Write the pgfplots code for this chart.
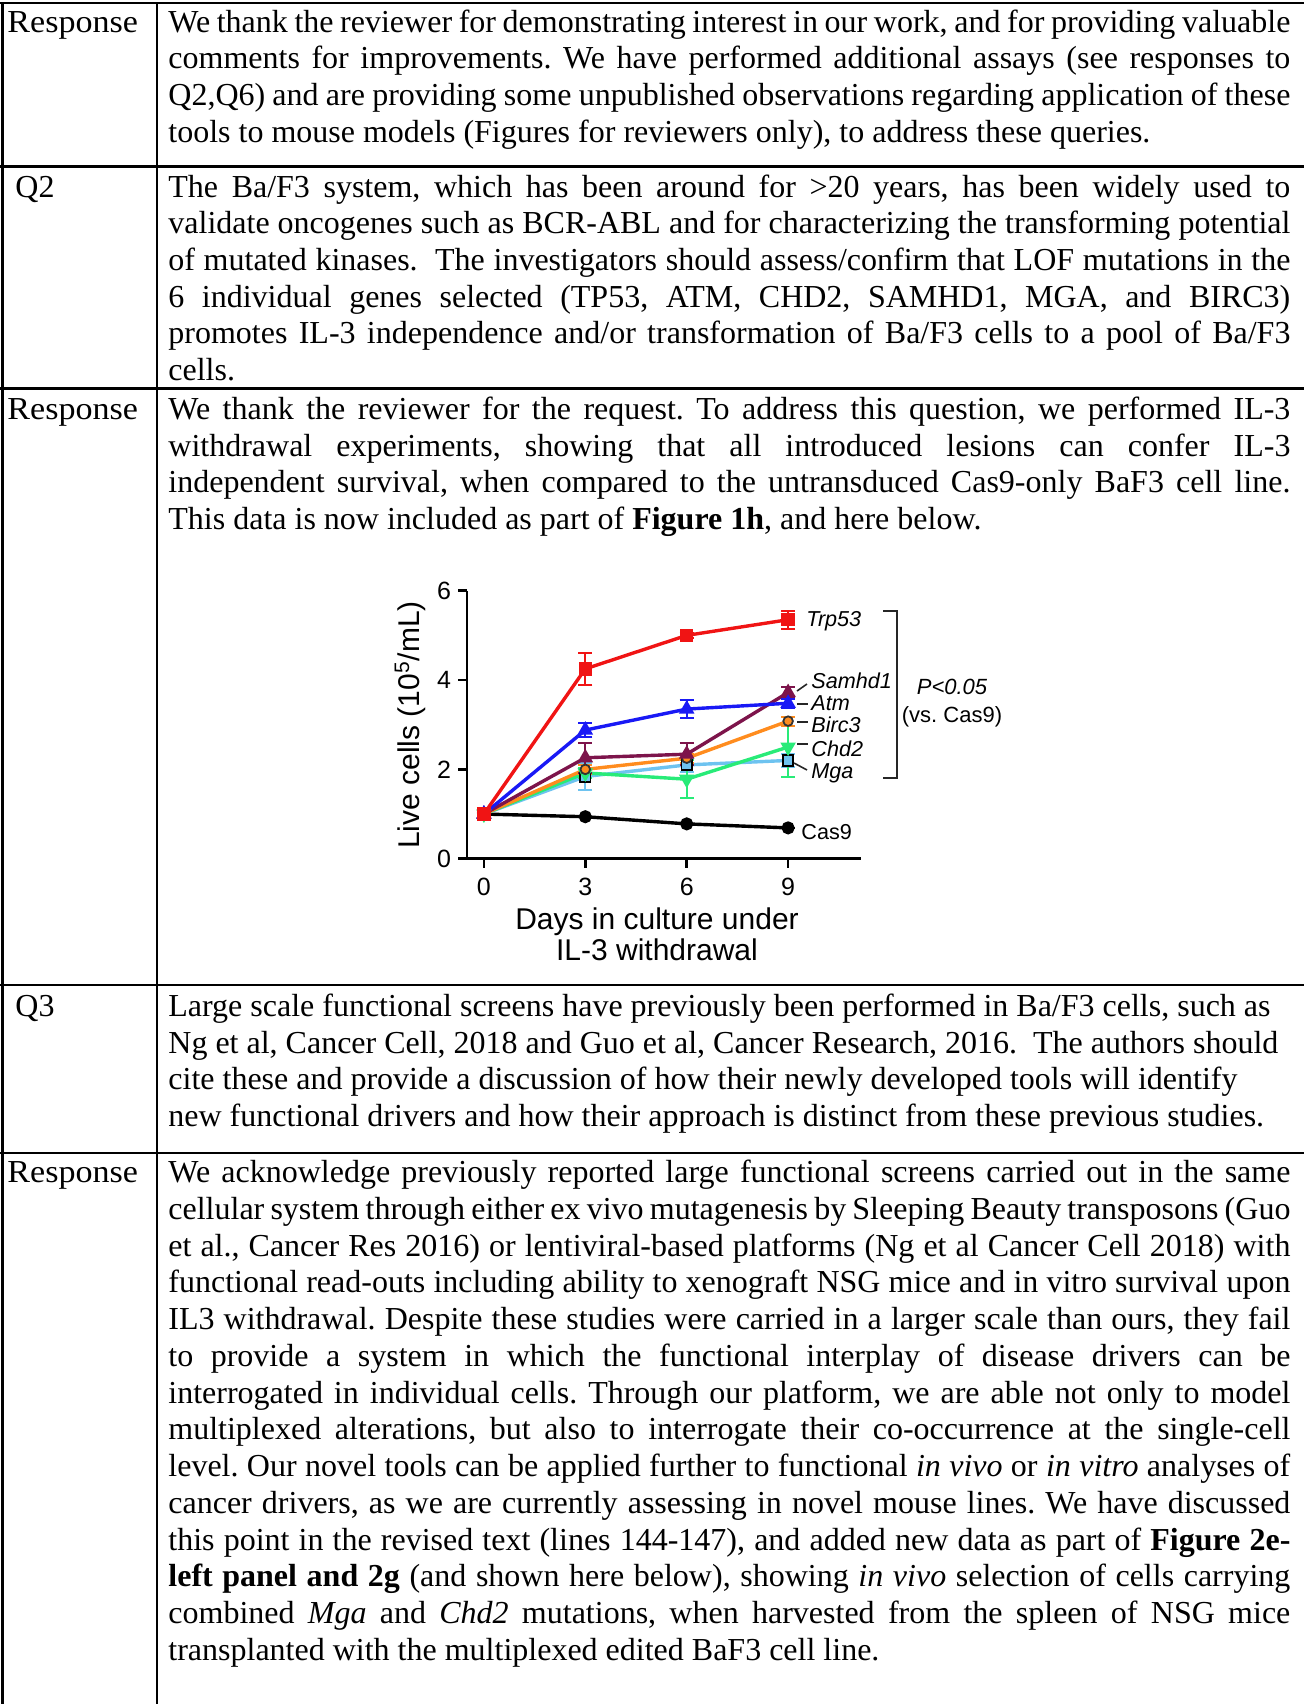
\documentclass[border=0pt]{standalone}
\usepackage{fontspec}
\setmainfont{Liberation Serif}
\setsansfont{Liberation Sans}
\usepackage{pgfplots}
\pgfplotsset{compat=1.18}
\frenchspacing
\definecolor{cTrp}{RGB}{240,20,20}
\definecolor{cAtm}{RGB}{25,25,245}
\definecolor{cSam}{RGB}{125,20,75}
\definecolor{cBir}{RGB}{255,140,30}
\definecolor{cChd}{RGB}{40,235,120}
\definecolor{cMga}{RGB}{110,195,240}
\newcommand\JL[2]{\node[anchor=base west,inner sep=0pt] at (168,#1) {\makebox[561pt][s]{#2}};}
\newcommand\RL[2]{\node[anchor=base west,inner sep=0pt] at (168,#1) {#2};}
\newcommand\Resp{\scalebox{1.065}[1]{Response}}
\begin{document}
\begin{tikzpicture}
\begin{scope}[x=0.5pt,y=-0.5pt,every node/.style={font=\fontsize{16}{18}\selectfont}]
\path[use as bounding box] (0,0) rectangle (1304,1704);
% table rules
\begin{scope}[line width=1.1pt]
\draw (0,3) -- (1304,3);
\draw (0,166.5) -- (1304,166.5);
\draw (0,388.5) -- (1304,388.5);
\draw (0,985) -- (1304,985);
\draw (0,1153) -- (1304,1153);
\draw (2.5,3) -- (2.5,1704);
\draw (157,3) -- (157,1704);
\end{scope}
% left column
\node[anchor=base west,inner sep=0pt] at (7,32) {\Resp};
\node[anchor=base west,inner sep=0pt] at (15,197) {Q2};
\node[anchor=base west,inner sep=0pt] at (7,419.5) {\Resp};
\node[anchor=base west,inner sep=0pt] at (15,1016.5) {Q3};
\node[anchor=base west,inner sep=0pt] at (7,1182.5) {\Resp};
% Response 1
\JL{32}{We thank the reviewer for demonstrating interest in our work, and for providing valuable}
\JL{68.7}{comments for improvements. We have performed additional assays (see responses to}
\JL{105.4}{Q2,Q6) and are providing some unpublished observations regarding application of these}
\RL{142.1}{tools to mouse models (Figures for reviewers only), to address these queries.}
% Q2
\JL{197}{The Ba/F3 system, which has been around for >20 years, has been widely used to}
\JL{233.7}{validate oncogenes such as BCR-ABL and for characterizing the transforming potential}
\JL{270.4}{of mutated kinases.\ \ The investigators should assess/confirm that LOF mutations in the}
\JL{307.1}{6 individual genes selected (TP53, ATM, CHD2, SAMHD1, MGA, and BIRC3)}
\JL{343.8}{promotes IL-3 independence and/or transformation of Ba/F3 cells to a pool of Ba/F3}
\RL{380.5}{cells.}
% Response 2
\JL{419.5}{We thank the reviewer for the request. To address this question, we performed IL-3}
\JL{456.2}{withdrawal experiments, showing that all introduced lesions can confer IL-3}
\JL{492.9}{independent survival, when compared to the untransduced Cas9-only BaF3 cell line.}
\RL{529.6}{This data is now included as part of \textbf{Figure 1h}, and here below.}
% Q3
\RL{1016.5}{Large scale functional screens have previously been performed in Ba/F3 cells, such as}
\RL{1053.2}{Ng et al, Cancer Cell, 2018 and Guo et al, Cancer Research, 2016.\ \ The authors should}
\RL{1089.9}{cite these and provide a discussion of how their newly developed tools will identify}
\RL{1126.6}{new functional drivers and how their approach is distinct from these previous studies.}
% Response 3
\JL{1182.5}{We acknowledge previously reported large functional screens carried out in the same}
\JL{1219.25}{cellular system through either ex vivo mutagenesis by Sleeping Beauty transposons (Guo}
\JL{1256}{et al., Cancer Res 2016) or lentiviral-based platforms (Ng et al Cancer Cell 2018) with}
\JL{1292.75}{functional read-outs including ability to xenograft NSG mice and in vitro survival upon}
\JL{1329.5}{IL3 withdrawal. Despite these studies were carried in a larger scale than ours, they fail}
\JL{1366.25}{to provide a system in which the functional interplay of disease drivers can be}
\JL{1403}{interrogated in individual cells. Through our platform, we are able not only to model}
\JL{1439.75}{multiplexed alterations, but also to interrogate their co-occurrence at the single-cell}
\JL{1476.5}{level. Our novel tools can be applied further to functional \textit{in vivo} or \textit{in vitro} analyses of}
\JL{1513.25}{cancer drivers, as we are currently assessing in novel mouse lines. We have discussed}
\JL{1550}{this point in the revised text (lines 144-147), and added new data as part of \textbf{Figure 2e-}}
\JL{1586.75}{\textbf{left panel and 2g} (and shown here below), showing \textit{in vivo} selection of cells carrying}
\JL{1623.5}{combined \textit{Mga} and \textit{Chd2} mutations, when harvested from the spleen of NSG mice}
\RL{1660.25}{transplanted with the multiplexed edited BaF3 cell line.}
\end{scope}
% chart
\begin{axis}[
  at={(233.5pt,-429.35pt)}, anchor=south west,
  x=16.9pt, y=22.335pt,
  xmin=-0.5, xmax=11.17, ymin=0, ymax=6,
  axis x line=bottom, axis y line=left,
  axis line style={line width=1.3pt,-},
  xtick={0,3,6,9}, ytick={0,2,4,6},
  tick align=outside, major tick length=4.5pt,
  tick style={line width=1.3pt,black},
  ticklabel style={font=\sffamily\fontsize{12.5}{13}\selectfont},
  xticklabel style={yshift=-1.5pt,rotate=0},
  yticklabel style={rotate=0,anchor=east},
  /pgf/number format/assume math mode=true,
  clip=false,
  every axis plot/.append style={line width=1.7pt},
  error bars/y dir=both, error bars/y explicit,
  error bars/error bar style={line width=1pt,solid},
  error bars/error mark options={rotate=90,mark size=3.5pt,line width=1pt},
]
\addplot[black, mark=*, mark size=2.4pt] coordinates {(0,1) +- (0,0) (3,0.94) +- (0,0) (6,0.78) +- (0,0) (9,0.69) +- (0,0)};
\addplot[cMga, mark=square*, mark size=2.6pt, mark options={fill=cMga,draw=black,line width=0.9pt}] coordinates {(0,1) +- (0,0.03) (3,1.84) +- (0,0.3) (6,2.1) +- (0,0.15) (9,2.2) +- (0,0.15)};
\addplot[cChd, mark=triangle*, mark size=2.8pt, mark options={rotate=180,fill=cChd}] coordinates {(0,1) +- (0,0.03) (3,1.92) +- (0,0.12) (6,1.78) +- (0,0.42) (9,2.5) +- (0,0.68)};
\addplot[cBir, mark=*, mark size=2.4pt, mark options={fill=cBir,draw=black!80,line width=0.9pt}] coordinates {(0,1) +- (0,0.03) (3,2.0) +- (0,0.1) (6,2.25) +- (0,0.1) (9,3.08) +- (0,0.1)};
\addplot[cSam, mark=triangle*, mark size=2.8pt, mark options={fill=cSam}] coordinates {(0,1) +- (0,0.03) (3,2.26) +- (0,0.34) (6,2.34) +- (0,0.24) (9,3.72) +- (0,0.12)};
\addplot[cAtm, mark=triangle*, mark size=2.8pt, mark options={fill=cAtm}] coordinates {(0,1) +- (0,0.03) (3,2.88) +- (0,0.16) (6,3.35) +- (0,0.2) (9,3.48) +- (0,0.1)};
\addplot[cTrp, mark=square*, mark size=2.5pt, mark options={fill=cTrp}] coordinates {(0,1) +- (0,0.05) (3,4.25) +- (0,0.36) (6,5.0) +- (0,0.06) (9,5.35) +- (0,0.2)};
\end{axis}
% chart annotations
\begin{scope}[x=0.5pt,y=-0.5pt]
\node[rotate=90,anchor=base,inner sep=0pt,font=\sffamily\fontsize{15}{16}\selectfont] at (419.5,725) {Live cells (10\textsuperscript{5}/mL)};
\node[anchor=base,inner sep=0pt,font=\sffamily\fontsize{15}{16}\selectfont] at (657,929.3) {Days in culture under};
\node[anchor=base,inner sep=0pt,font=\sffamily\fontsize{15}{16}\selectfont] at (657,960.7) {IL-3 withdrawal};
\begin{scope}[every node/.style={anchor=base west,inner sep=0pt,font=\sffamily\itshape\fontsize{10.8}{12}\selectfont}]
\node at (806,626.7) {Trp53};
\node at (811,688.3) {Samhd1};
\node at (811,710.7) {Atm};
\node at (811,732.7) {Birc3};
\node at (811,756) {Chd2};
\node at (811,778.3) {Mga};
\node[font=\sffamily\fontsize{10.8}{12}\selectfont] at (801,839.3) {Cas9};
\end{scope}
\begin{scope}[line width=0.8pt,black!85]
\draw (797,691) -- (807,684);
\draw (797,704) -- (808,704);
\draw (797,722) -- (808,722);
\draw (797,744) -- (808,744);
\draw (794,763) -- (807,770);
\draw (883,611) -- (897,611) -- (897,778) -- (883,778);
\end{scope}
\node[anchor=base,inner sep=0pt,font=\sffamily\itshape\fontsize{11}{12}\selectfont] at (952,694) {P<0.05};
\node[anchor=base,inner sep=0pt,font=\sffamily\fontsize{11}{12}\selectfont] at (952,722.7) {(vs. Cas9)};
\end{scope}
\end{tikzpicture}
\end{document}
